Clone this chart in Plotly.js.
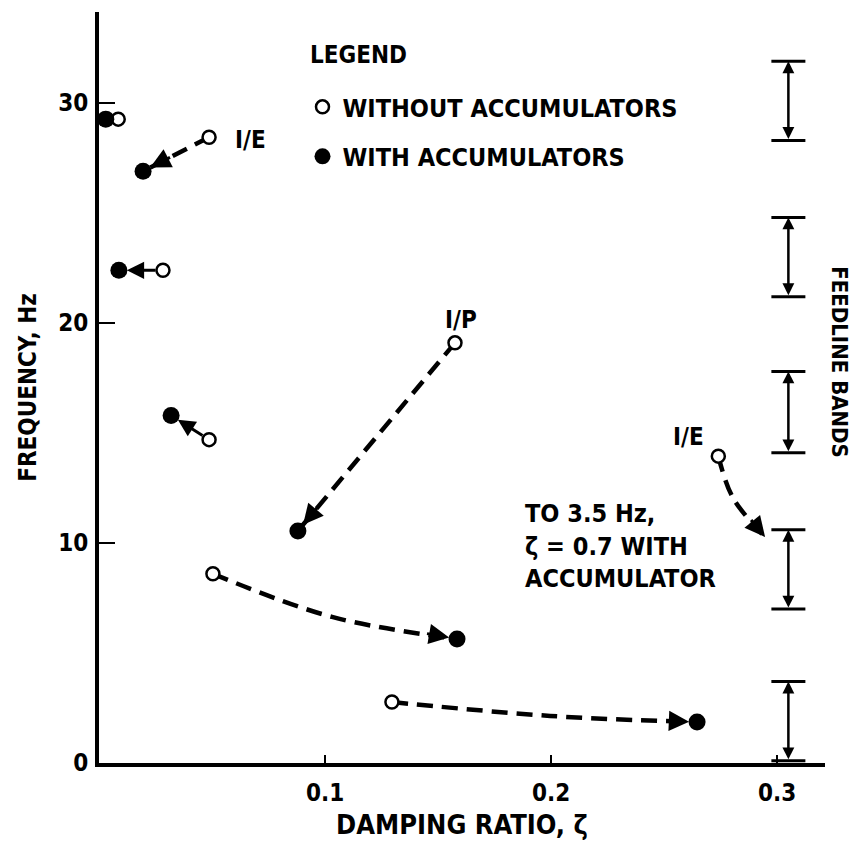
<!DOCTYPE html>
<html>
<head>
<meta charset="utf-8">
<script src="https://cdn.plot.ly/plotly-3.0.1.min.js"></script>
<style>
  html, body { margin: 0; padding: 0; background: #ffffff; }
  #chart { width: 856px; height: 850px; }
</style>
</head>
<body>
<div id="chart"></div>
<script>
// ---------------- data ----------------
// Modes without accumulators (open circles)
const openX = [0.0085, 0.0487, 0.0283, 0.0487, 0.1575, 0.0504, 0.1296, 0.2740];
const openY = [29.27, 28.45, 22.40, 14.70, 19.10, 8.60, 2.77, 13.95];
// Same modes with accumulators (filled circles)
const filledX = [0.0030, 0.0195, 0.0088, 0.0319, 0.0880, 0.1584, 0.2646];
const filledY = [29.27, 26.90, 22.40, 15.80, 10.55, 5.64, 1.86];

// solid short arrows: open[i] -> filled[i]
const solidArrowIdx = [2, 3];
// dashed paths: open[dashOpen[k]] -> (bend) -> filled[dashFilled[k]]  (-1 = goes "to 3.5 Hz", off chart)
const dashOpen   = [1, 4, 5, 6, 7];
const dashFilled = [1, 4, 5, 6, -1];
const bendX = [null, null, 0.1031, 0.1996, 0.2805];
const bendY = [null, null, 6.64, 2.14, 12.05];
// end of the I/E arrow that leaves the chart (ζ = 0.7 at 3.5 Hz)
const offTipX = 0.2947;
const offTipY = 10.27;

// Feedline bands (Hz)
const bandX = 0.305;
const bandLow  = [28.3, 21.2, 14.1, 7.0, 0.1];
const bandHigh = [31.9, 24.8, 17.8, 10.6, 3.7];

// Axis ticks
const xTicks = [0.1, 0.2, 0.3];
const xTickText = ['0.1', '0.2', '0.3'];
const yTicks = [0, 10, 20, 30];
const yTickText = ['0', '10', '20', '30'];

const modeNames = ['I/E', 'I/P', 'I/E'];
const seriesNames = ['WITHOUT ACCUMULATORS', 'WITH ACCUMULATORS'];

// ---------------- drawing ----------------
const FONT = '"DejaVu Sans Condensed", "Liberation Sans Narrow", "DejaVu Sans", sans-serif';
const BLACK = '#000000';
const XR = [0, 0.3212], YR = [0, 34.14];
const PLOT_W = 726, PLOT_H = 751;
const PXX = PLOT_W / (XR[1] - XR[0]);
const PXY = PLOT_H / (YR[1] - YR[0]);
const f = (size) => ({ family: FONT, size: size, color: BLACK, weight: 'bold' });

const traces = [];
const annotations = [];
const shapes = [];

function tailOffset(tx, ty, px, py, L) {
  const dx = (px - tx) * PXX, dy = -(py - ty) * PXY;
  const n = Math.hypot(dx, dy);
  return [dx / n * L, dy / n * L];
}

// dashed connection paths with arrowheads
dashOpen.forEach((oi, k) => {
  const fi = dashFilled[k];
  const tx = fi >= 0 ? filledX[fi] : offTipX;
  const ty = fi >= 0 ? filledY[fi] : offTipY;
  const xs = [openX[oi]], ys = [openY[oi]];
  if (bendX[k] !== null) { xs.push(bendX[k]); ys.push(bendY[k]); }
  xs.push(tx); ys.push(ty);
  traces.push({
    type: 'scatter', mode: 'lines', x: xs, y: ys, showlegend: false, hoverinfo: 'skip',
    line: { color: BLACK, width: 4.5, dash: '16px,9px', shape: bendX[k] !== null ? 'spline' : 'linear', smoothing: 1 }
  });
  const px = xs[xs.length - 2], py = ys[ys.length - 2];
  const so = fi >= 0 ? 8 : 0;
  const [ax, ay] = tailOffset(tx, ty, px, py, so + 24);
  annotations.push({
    x: tx, y: ty, xref: 'x', yref: 'y', ax: ax, ay: ay, text: '',
    showarrow: true, arrowhead: 2, arrowsize: 1.35, arrowwidth: 3, arrowcolor: BLACK, standoff: so
  });
});

// solid short arrows
solidArrowIdx.forEach(i => {
  annotations.push({
    x: filledX[i], y: filledY[i], xref: 'x', yref: 'y', axref: 'x', ayref: 'y',
    ax: openX[i], ay: openY[i], text: '', showarrow: true,
    arrowhead: 2, arrowsize: 1.15, arrowwidth: 3, arrowcolor: BLACK, standoff: 8, startstandoff: 6
  });
});

// feedline band double arrows with caps
bandLow.forEach((lo, i) => {
  const hi = bandHigh[i];
  annotations.push({
    x: bandX, y: hi, xref: 'x', yref: 'y', axref: 'x', ayref: 'y', ax: bandX, ay: lo, text: '',
    showarrow: true, arrowside: 'end+start', arrowhead: 2, startarrowhead: 2,
    arrowsize: 0.95, startarrowsize: 0.95, arrowwidth: 2.5, arrowcolor: BLACK
  });
  [lo, hi].forEach(v => shapes.push({
    type: 'line', xref: 'x', yref: 'y', xsizemode: 'pixel', xanchor: bandX,
    x0: -17, x1: 17, y0: v, y1: v, line: { color: BLACK, width: 3 }
  }));
});

// markers (drawn on top)
traces.push({
  type: 'scatter', mode: 'markers', name: seriesNames[0], legendgroup: 'a',
  x: openX, y: openY, hoverinfo: 'x+y',
  marker: { symbol: 'circle', size: 13, color: '#ffffff', line: { color: BLACK, width: 2.5 } }
});
traces.push({
  type: 'scatter', mode: 'markers', name: seriesNames[1], legendgroup: 'b',
  x: filledX, y: filledY, hoverinfo: 'x+y',
  marker: { symbol: 'circle', size: 17, color: BLACK, line: { width: 0 } }
});

// text labels
annotations.push({ x: 0.0593, y: 28.3, xref: 'x', yref: 'y', text: modeNames[0], showarrow: false, xanchor: 'left', yanchor: 'middle', font: f(24) });
annotations.push({ x: 0.160, y: 20.14, xref: 'x', yref: 'y', text: modeNames[1], showarrow: false, xanchor: 'center', yanchor: 'middle', font: f(24) });
annotations.push({ x: 0.2606, y: 14.8, xref: 'x', yref: 'y', text: modeNames[2], showarrow: false, xanchor: 'center', yanchor: 'middle', font: f(24) });
annotations.push({
  x: 0.1876, y: 9.86, xref: 'x', yref: 'y', showarrow: false, xanchor: 'left', yanchor: 'middle', align: 'left',
  text: 'TO 3.5 Hz,<br>ζ = 0.7 WITH<br>ACCUMULATOR', font: f(25)
});
annotations.push({
  x: 1.019, y: 0.534, xref: 'paper', yref: 'paper', showarrow: false, textangle: 90,
  xanchor: 'center', yanchor: 'middle', text: 'FEEDLINE BANDS', font: f(22)
});
// legend heading
annotations.push({
  x: 0.2879, y: 0.9427, xref: 'paper', yref: 'paper', showarrow: false,
  xanchor: 'left', yanchor: 'middle', text: 'LEGEND', font: f(24)
});

const layout = {
  width: 856, height: 850,
  margin: { l: 99, r: 31, t: 12, b: 87, pad: 0 },
  paper_bgcolor: '#ffffff', plot_bgcolor: '#ffffff',
  font: f(22),
  showlegend: true,
  legend: {
    x: 0.2803, y: 0.904, xanchor: 'left', yanchor: 'top',
    bgcolor: 'rgba(0,0,0,0)', borderwidth: 0,
    traceorder: 'grouped', tracegroupgap: 14,
    font: f(25)
  },
  xaxis: {
    range: XR, showgrid: false, zeroline: false,
    showline: true, linecolor: BLACK, linewidth: 4,
    ticks: 'inside', ticklen: 8, tickwidth: 2, tickcolor: BLACK,
    tickvals: xTicks, ticktext: xTickText, ticklabelstandoff: 5,
    tickfont: f(24),
    title: { text: 'DAMPING RATIO, ζ', font: f(27), standoff: 10 }
  },
  yaxis: {
    range: YR, showgrid: false, zeroline: false,
    showline: true, linecolor: BLACK, linewidth: 4,
    ticks: 'inside', ticklen: 16, tickwidth: 2, tickcolor: BLACK,
    tickvals: yTicks, ticktext: yTickText, ticklabelstandoff: 2,
    tickfont: f(24),
    title: { text: 'FREQUENCY, Hz', font: f(24), standoff: 16 }
  },
  shapes: shapes,
  annotations: annotations
};

Plotly.newPlot('chart', traces, layout, { displayModeBar: false, staticPlot: true });
</script>
</body>
</html>
